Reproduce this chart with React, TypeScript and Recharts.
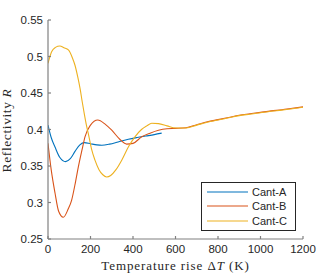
import React from 'react';
import { LineChart, Line, XAxis, YAxis, Legend, Label } from 'recharts';

// Temperature rise (K) and reflectivity for each cantilever
const tempsA = [0, 15, 33, 55, 83, 105, 127, 150, 171, 200, 230, 253, 290, 330, 378, 420, 460, 500, 535];
const cantA = [0.406, 0.389, 0.376, 0.362, 0.356, 0.36, 0.37, 0.379, 0.382, 0.3805, 0.379, 0.3785, 0.38, 0.383, 0.3866, 0.389, 0.391, 0.393, 0.395];

const tempsB = [0, 15, 33, 50, 72, 95, 111, 130, 143, 160, 174, 200, 234, 270, 300, 340, 370, 400, 441, 480, 520, 560, 600, 650, 700, 750, 800, 850, 900, 950, 1000, 1050, 1100, 1150, 1200];
const cantB = [0.381, 0.345, 0.313, 0.288, 0.2797, 0.291, 0.303, 0.329, 0.349, 0.372, 0.39, 0.406, 0.413, 0.407, 0.399, 0.386, 0.38, 0.381, 0.39, 0.395, 0.399, 0.401, 0.4015, 0.4025, 0.4065, 0.4105, 0.4135, 0.4165, 0.4195, 0.4215, 0.4235, 0.4255, 0.427, 0.429, 0.431];

const tempsC = [0, 17, 35, 56, 75, 96, 115, 127, 140, 151, 161, 171, 180, 190, 205, 221, 240, 258, 276, 295, 320, 347, 380, 409, 440, 465, 488, 520, 560, 600, 650, 700, 750, 800, 850, 900, 950, 1000, 1050, 1100, 1150, 1200];
const cantC = [0.4907, 0.5066, 0.5125, 0.5144, 0.512, 0.509, 0.498, 0.488, 0.472, 0.456, 0.438, 0.421, 0.407, 0.394, 0.373, 0.358, 0.345, 0.338, 0.335, 0.337, 0.345, 0.358, 0.377, 0.39, 0.4, 0.405, 0.4085, 0.408, 0.405, 0.402, 0.402, 0.406, 0.41, 0.413, 0.416, 0.419, 0.421, 0.423, 0.425, 0.4265, 0.4285, 0.4305];

const xTicks = [0, 200, 400, 600, 800, 1000, 1200];
const yTicks = [0.25, 0.3, 0.35, 0.4, 0.45, 0.5, 0.55];

const toRows = (ts: number[], rs: number[]) => ts.map((T, i) => ({ T, R: rs[i] }));

const AXIS = '#808080';
const TEXT = '#262626';
const SERIF = '"Liberation Serif", "Times New Roman", serif';
const tickFont = { fontFamily: '"Liberation Sans", Arial, sans-serif', fontSize: 11.5, fill: TEXT };

const XLabel = ({ viewBox }: any) => (
  <text
    x={viewBox.x + viewBox.width / 2}
    y={viewBox.y + 31}
    textAnchor="middle"
    fontFamily={SERIF}
    fontSize={13}
    letterSpacing={0.9}
    fill={TEXT}
  >
    Temperature rise Δ<tspan fontStyle="italic">T</tspan> (K)
  </text>
);

const YLabel = ({ viewBox }: any) => {
  const cx = 11;
  const cy = viewBox.y + viewBox.height / 2 + 1;
  return (
    <text
      x={cx}
      y={cy}
      transform={`rotate(-90 ${cx} ${cy})`}
      textAnchor="middle"
      fontFamily={SERIF}
      fontSize={13.5}
      letterSpacing={0.6}
      fill={TEXT}
    >
      Reflectivity <tspan fontStyle="italic">R</tspan>
    </text>
  );
};

const LegendBox = ({ payload }: any) => (
  <div
    style={{
      border: '1px solid #262626',
      background: '#fff',
      width: 95,
      height: 49,
      boxSizing: 'border-box',
      paddingTop: 2,
      fontFamily: '"Liberation Sans", Arial, sans-serif',
      fontSize: 11,
      color: TEXT,
    }}
  >
    {(payload || []).map((p: any) => (
      <div key={p.value} style={{ display: 'flex', alignItems: 'center', height: 14.3 }}>
        <svg width={50} height={4} style={{ display: 'block' }}>
          <line x1={5} x2={46} y1={2} y2={2} stroke={p.color} strokeWidth={1.2} />
        </svg>
        <span style={{ lineHeight: '14px' }}>{p.value}</span>
      </div>
    ))}
  </div>
);

export default function App() {
  return (
    <div style={{ position: 'absolute', left: 0, top: 0, background: '#fff' }}>
      <LineChart width={335} height={275} margin={{ top: 20, right: 32, bottom: 0, left: 0 }}>
        <XAxis
          xAxisId={0}
          dataKey="T"
          type="number"
          domain={[0, 1200]}
          ticks={xTicks}
          allowDataOverflow
          height={36}
          tickSize={-3}
          tickMargin={9}
          tick={tickFont}
          stroke={AXIS}
          strokeWidth={1.2}
          label={<Label content={XLabel} />}
        />
        <XAxis
          xAxisId="top"
          orientation="top"
          dataKey="T"
          type="number"
          domain={[0, 1200]}
          ticks={xTicks}
          height={0}
          tickSize={-3}
          tick={false}
          stroke={AXIS}
          strokeWidth={1.2}
        />
        <YAxis
          yAxisId={0}
          type="number"
          domain={[0.25, 0.55]}
          ticks={yTicks}
          allowDataOverflow
          width={48}
          tickSize={-3}
          tickMargin={8}
          tick={tickFont}
          tickFormatter={(v: number) => String(+v.toFixed(2))}
          stroke={AXIS}
          strokeWidth={1.2}
          label={<Label content={YLabel} />}
        />
        <YAxis
          yAxisId="right"
          orientation="right"
          type="number"
          domain={[0.25, 0.55]}
          ticks={yTicks}
          width={0}
          tickSize={-3}
          tick={false}
          stroke={AXIS}
          strokeWidth={1.2}
        />
        <Line data={toRows(tempsA, cantA)} dataKey="R" name="Cant-A" type="monotone" stroke="#0072BD" strokeWidth={1.1} dot={false} isAnimationActive={false} />
        <Line data={toRows(tempsB, cantB)} dataKey="R" name="Cant-B" type="monotone" stroke="#D95319" strokeWidth={1.1} dot={false} isAnimationActive={false} />
        <Line data={toRows(tempsC, cantC)} dataKey="R" name="Cant-C" type="monotone" stroke="#EDB120" strokeWidth={1.1} dot={false} isAnimationActive={false} />
        <Legend
          layout="vertical"
          align="center"
          verticalAlign="middle"
          content={LegendBox}
          wrapperStyle={{ left: 201, top: 182, width: 95, height: 49 }}
        />
      </LineChart>
    </div>
  );
}
